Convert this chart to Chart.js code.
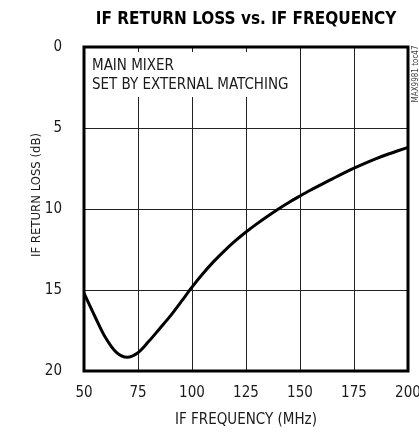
<!DOCTYPE html>
<html>
<head>
<meta charset="utf-8">
<script src="https://cdn.jsdelivr.net/npm/chart.js@4.4.1/dist/chart.umd.min.js"></script>
<style>
  html, body { margin: 0; padding: 0; background: #fff; }
  #wrap { width: 419px; height: 433px; position: relative; }
</style>
</head>
<body>
<div id="wrap"><canvas id="c"></canvas></div>
<script>
// IF return loss of the main mixer across the IF band
const frequencyMHz = [50, 55, 60, 65, 70, 75, 80, 85, 90, 95, 100, 105, 110, 115, 120, 125,
                      130, 135, 140, 145, 150, 155, 160, 165, 170, 175, 180, 185, 190, 195, 200];
const returnLossDb = [15.2, 16.62, 17.95, 18.85, 19.15, 18.87, 18.17, 17.39, 16.6, 15.72, 14.82,
                      14.0, 13.25, 12.58, 11.97, 11.42, 10.92, 10.45, 10.0, 9.58, 9.2, 8.83,
                      8.48, 8.14, 7.8, 7.48, 7.18, 6.9, 6.65, 6.42, 6.2];
const xTickValues = [50, 75, 100, 125, 150, 175, 200];
const yTickValues = [0, 5, 10, 15, 20];
const chartTitle = 'IF RETURN LOSS vs. IF FREQUENCY';
const noteLines = ['MAIN MIXER', 'SET BY EXTERNAL MATCHING'];
const yAxisTitle = 'IF RETURN LOSS (dB)';
const figureTag = 'MAX9981 toc47';

const FONT = "'Liberation Sans Narrow', 'Arial Narrow', 'DejaVu Sans Condensed', sans-serif";
const INK = '#1a1a1a';

// Heading over the plot, white panel with the note, frame and side labels
const annotations = {
  id: 'annotations',
  beforeDatasetsDraw(chart) {
    const { ctx, chartArea: a } = chart;
    ctx.save();
    ctx.fillStyle = '#fff';
    ctx.fillRect(a.left + 1, a.top + 5, 210, 45);
    ctx.fillStyle = INK;
    ctx.font = "15px " + FONT;
    ctx.textBaseline = 'alphabetic';
    ctx.fillText(noteLines[0], a.left + 8, a.top + 23);
    ctx.fillText(noteLines[1], a.left + 8, a.top + 42);
    ctx.restore();
  },
  afterDraw(chart) {
    const { ctx, chartArea: a } = chart;

    // heading, centred over the plot area
    ctx.save();
    ctx.fillStyle = '#000';
    ctx.font = "bold 17px " + FONT;
    ctx.textAlign = 'center';
    ctx.textBaseline = 'middle';
    ctx.fillText(chartTitle, (a.left + a.right) / 2, 20);
    ctx.restore();

    // heavy plot frame
    ctx.save();
    ctx.strokeStyle = '#000';
    ctx.lineWidth = 3;
    ctx.strokeRect(a.left, a.top, a.right - a.left, a.bottom - a.top);
    ctx.restore();

    // vertical axis title
    ctx.save();
    ctx.translate(37, 195);
    ctx.rotate(-Math.PI / 2);
    ctx.fillStyle = INK;
    ctx.font = "13px " + FONT;
    ctx.textAlign = 'center';
    ctx.textBaseline = 'middle';
    ctx.fillText(yAxisTitle, 0, 0);
    ctx.restore();

    // figure tag along the right edge
    ctx.save();
    ctx.translate(a.right + 8, a.top + 27);
    ctx.rotate(-Math.PI / 2);
    ctx.fillStyle = '#444';
    ctx.font = "8px " + FONT;
    ctx.textAlign = 'center';
    ctx.textBaseline = 'middle';
    ctx.fillText(figureTag, 0, 0);
    ctx.restore();
  }
};

new Chart(document.getElementById('c'), {
  type: 'line',
  data: {
    datasets: [{
      data: frequencyMHz.map((f, i) => ({ x: f, y: returnLossDb[i] })),
      borderColor: '#000',
      borderWidth: 3,
      pointRadius: 0,
      cubicInterpolationMode: 'monotone',
      fill: false
    }]
  },
  options: {
    responsive: true,
    maintainAspectRatio: false,
    animation: false,
    layout: { padding: { left: 0, right: 11, top: 47, bottom: 0 } },
    plugins: {
      legend: { display: false },
      tooltip: { enabled: false },
      title: { display: false }
    },
    scales: {
      x: {
        type: 'linear',
        min: 50, max: 200,
        afterBuildTicks: s => { s.ticks = xTickValues.map(v => ({ value: v })); },
        afterFit: s => { s.height = 62; s.paddingLeft = 0; s.paddingRight = 0; },
        grid: { color: '#222', lineWidth: 1, drawTicks: false },
        border: { display: false },
        ticks: { color: INK, font: { family: FONT, size: 15 }, padding: 13, maxRotation: 0 },
        title: {
          display: true,
          text: 'IF FREQUENCY (MHz)',
          color: INK,
          font: { family: FONT, size: 15 },
          padding: { top: 0, bottom: 4 }
        }
      },
      y: {
        type: 'linear',
        reverse: true,
        min: 0, max: 20,
        afterBuildTicks: s => { s.ticks = yTickValues.map(v => ({ value: v })); },
        afterFit: s => { s.width = 84; s.paddingTop = 0; s.paddingBottom = 0; },
        grid: { color: '#222', lineWidth: 1, drawTicks: false },
        border: { display: false },
        ticks: { color: INK, font: { family: FONT, size: 15 }, padding: 22 }
      }
    }
  },
  plugins: [annotations]
});
</script>
</body>
</html>
